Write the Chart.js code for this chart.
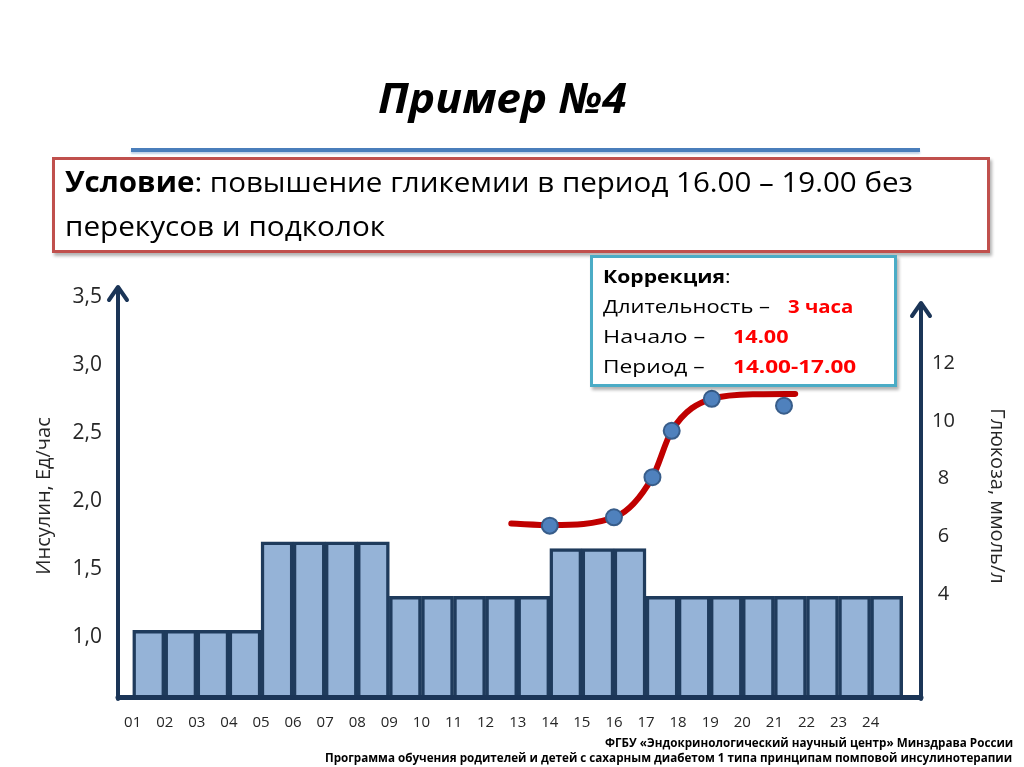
<!DOCTYPE html>
<html lang="ru">
<head>
<meta charset="utf-8">
<title>Пример №4</title>
<script src="https://cdn.jsdelivr.net/npm/chart.js@4.4.1/dist/chart.umd.min.js"></script>
<style>
  html, body { margin: 0; padding: 0; background: #fff; }
  body { width: 1024px; height: 767px; position: relative; overflow: hidden; font-family: "Open Sans", sans-serif; color: #000; }
  #chart { position: absolute; left: 0; top: 0; }
  .t { position: absolute; white-space: nowrap; line-height: 1; }
  .b { font-weight: bold; }
  .red { color: #ff0000; font-weight: bold; }
  .box { position: absolute; background: #fff; box-sizing: border-box; box-shadow: 2px 3px 3px rgba(0,0,0,0.3); }
  #cond { left: 52px; top: 157px; width: 938px; height: 96px; border: 3px solid #c0504d; }
  #corr { left: 590px; top: 255px; width: 307px; height: 132px; border: 3px solid #4bacc6; }
  #rule { position: absolute; left: 131px; top: 148px; width: 789px; height: 4px; background: #4a7ebb; box-shadow: 0 2px 2px rgba(74,126,187,0.35); }
</style>
</head>
<body>
<canvas id="chart" width="1024" height="767"></canvas>
<div id="rule"></div>
<div class="box" id="cond"></div>
<div class="box" id="corr"></div>
<script>
// часы (подписи оси X)
const hours = ['01','02','03','04','05','06','07','08','09','10','11','12',
               '13','14','15','16','17','18','19','20','21','22','23','24'];
// базальный инсулин, Ед/час
const insulin = [1.05, 1.05, 1.05, 1.05, 1.7, 1.7, 1.7, 1.7,
                 1.3, 1.3, 1.3, 1.3, 1.3, 1.65, 1.65, 1.65,
                 1.3, 1.3, 1.3, 1.3, 1.3, 1.3, 1.3, 1.3];
// замеры глюкозы, ммоль/л
const glucoseTime = [14, 16, 17.2, 17.8, 19.05, 21.3];
const glucose = [6.37, 6.66, 8.05, 9.66, 10.77, 10.53];
// красная кривая тренда
const trendTime = [12.8, 14.05, 16.05, 17.2, 17.8, 19.05, 20.5, 21.65];
const trend = [6.44, 6.39, 6.68, 8.05, 9.66, 10.77, 10.93, 10.94];
// подписи осей
const insulinTicks = [1.0, 1.5, 2.0, 2.5, 3.0, 3.5];
const glucoseTicks = [4, 6, 8, 10, 12];

function put(html, x, base, size, w, cls) {
  const el = document.createElement('div');
  el.className = 't ' + (cls || '');
  el.innerHTML = html;
  el.style.fontSize = size + 'px';
  el.style.top = (base - 0.888 * size) + 'px';
  el.style.left = x + 'px';
  document.body.appendChild(el);
  el.style.transformOrigin = '0 0';
  el.style.transform = 'scaleX(' + (w / el.offsetWidth) + ')';
  return el;
}

put('Пример №4', 378, 113, 42, 267, 'b').style.fontStyle = 'italic';
put('<b>Условие</b>: повышение гликемии в период 16.00 – 19.00 без', 65, 192, 28, 848);
put('перекусов и подколок', 65, 236, 28, 320);

put('<b>Коррекция</b>:', 603, 283, 18.5, 128);
put('Длительность –', 603, 313, 18.5, 167);
put('3 часа', 788, 313, 18.5, 65, 'red');
put('Начало –', 603, 343, 18.5, 102);
put('14.00', 733, 343, 18.5, 56, 'red');
put('Период –', 603, 373, 18.5, 102);
put('14.00-17.00', 733, 373, 18.5, 123, 'red');

put('ФГБУ «Эндокринологический научный центр» Минздрава России', 605, 747, 11.5, 408, 'b');
put('Программа обучения родителей и детей с сахарным диабетом 1 типа принципам помповой инсулинотерапии', 325, 762, 11.5, 687, 'b');

Chart.defaults.font.family = "'Open Sans', sans-serif";
Chart.defaults.color = '#262626';

const axesArrows = {
  id: 'axesArrows',
  afterDatasetsDraw(chart) {
    const { ctx, chartArea: a } = chart;
    ctx.save();
    ctx.strokeStyle = '#1b3557';
    ctx.lineCap = 'round';
    ctx.lineJoin = 'round';
    ctx.lineWidth = 5;
    ctx.beginPath();
    ctx.moveTo(a.left, a.bottom + 2.5);
    ctx.lineTo(a.right, a.bottom + 2.5);
    ctx.stroke();
    ctx.lineWidth = 4;
    [[a.left, a.top - 10], [a.right, a.top + 6]].forEach(([x, tip]) => {
      ctx.beginPath();
      ctx.moveTo(x, a.bottom + 4);
      ctx.lineTo(x, tip + 1);
      ctx.stroke();
      ctx.beginPath();
      ctx.moveTo(x - 9, tip + 13);
      ctx.lineTo(x, tip);
      ctx.lineTo(x + 9, tip + 13);
      ctx.stroke();
    });
    ctx.restore();
  }
};

new Chart(document.getElementById('chart'), {
  type: 'bar',
  data: {
    datasets: [
      {
        type: 'line',
        label: 'Глюкоза',
        data: glucoseTime.map((t, i) => ({ x: t, y: glucose[i] })),
        yAxisID: 'y2',
        showLine: false,
        pointRadius: 8,
        pointBackgroundColor: '#4f81bd',
        pointBorderColor: '#385d8a',
        pointBorderWidth: 2,
        order: 0
      },
      {
        type: 'line',
        label: 'Тренд',
        data: trendTime.map((t, i) => ({ x: t, y: trend[i] })),
        yAxisID: 'y2',
        borderColor: '#c00000',
        borderWidth: 6,
        borderCapStyle: 'round',
        pointRadius: 0,
        cubicInterpolationMode: 'monotone',
        order: 1
      },
      {
        label: 'Инсулин',
        data: insulin.map((v, i) => ({ x: i + 1.5, y: v })),
        yAxisID: 'y',
        backgroundColor: '#95b3d7',
        borderColor: '#1f3b5c',
        borderWidth: 3.5,
        borderSkipped: false,
        barPercentage: 1,
        categoryPercentage: 1,
        order: 2
      }
    ]
  },
  options: {
    responsive: false,
    animation: false,
    layout: { padding: { left: 0, right: 0, top: 297, bottom: 22 } },
    plugins: { legend: { display: false }, tooltip: { enabled: false } },
    scales: {
      x: {
        type: 'linear',
        min: 0.542,
        max: 25.57,
        offset: false,
        grid: { display: false, drawTicks: false },
        border: { display: false },
        afterBuildTicks: s => { s.ticks = hours.map((h, i) => ({ value: i + 1 })); },
        afterFit: s => { s.height = 50; },
        ticks: {
          autoSkip: false,
          maxRotation: 0,
          padding: 19,
          font: { size: 15 },
          callback: v => hours[v - 1]
        }
      },
      y: {
        position: 'left',
        min: 0.574,
        max: 3.5,
        grid: { display: false, drawTicks: false },
        border: { display: false },
        afterBuildTicks: s => { s.ticks = insulinTicks.map(v => ({ value: v })); },
        afterFit: s => { s.width = 118; },
        ticks: {
          padding: 16,
          font: { size: 21 },
          callback: v => v.toFixed(1).replace('.', ',')
        },
        title: {
          display: true,
          text: 'Инсулин, Ед/час',
          font: { size: 20 },
          padding: { top: 32, bottom: 0 }
        }
      },
      y2: {
        position: 'right',
        min: 0.496,
        max: 14.3,
        grid: { display: false, drawTicks: false },
        border: { display: false },
        afterBuildTicks: s => { s.ticks = glucoseTicks.map(v => ({ value: v })); },
        afterFit: s => { s.width = 103; },
        ticks: {
          padding: 11,
          crossAlign: 'center',
          font: { size: 20 },
          callback: v => String(v)
        },
        title: {
          display: true,
          text: 'Глюкоза, ммоль/л',
          font: { size: 20 },
          padding: { top: 15, bottom: 0 }
        }
      }
    }
  },
  plugins: [axesArrows]
});
</script>
</body>
</html>
